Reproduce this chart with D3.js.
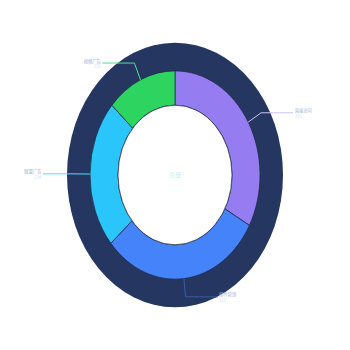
<!DOCTYPE html>
<html lang="zh">
<head>
<meta charset="utf-8">
<title>Ring</title>
<script src="https://cdn.jsdelivr.net/npm/d3@7/dist/d3.min.js"></script>
<style>
  body { margin: 0; background: #fff; }
  text { font-family: "Noto Sans CJK SC", "Noto Sans", sans-serif; }
</style>
</head>
<body>
<script>
// data
var names = ["直接访问", "邮件营销", "联盟广告", "视频广告"];
var values = [335, 310, 234, 135];
var colors = ["#967cf1", "#4583fa", "#2ac5fb", "#2dd460"];
var lineColors = ["#cdc3fb", "#3b5ba8", "#5fd6fb", "#4fe088"];
var centerLabel = "总量";

var W = 350, H = 350;
var cx = 175, cy = 175, sy = 1.225;   // ring is squashed into an ellipse
var r0 = 57, r1 = 85, rBg = 108;

var svg = d3.select("body").append("svg")
    .attr("width", W)
    .attr("height", H);

var pie = d3.pie().sort(null).value(function(d) { return d; });
var arcs = pie(values);

var arc = d3.arc().innerRadius(r0).outerRadius(r1);

var g = svg.append("g")
    .attr("transform", "translate(" + cx + "," + cy + ") scale(1," + sy + ")");

// dark outer ring
g.append("circle")
    .attr("r", rBg)
    .attr("fill", "#253761");

g.selectAll("path.slice")
    .data(arcs)
  .enter().append("path")
    .attr("class", "slice")
    .attr("d", arc)
    .attr("fill", function(d, i) { return colors[i]; })
    .attr("stroke", "#1b2540")
    .attr("stroke-width", 0.7)
    .attr("vector-effect", "non-scaling-stroke");

g.append("circle")
    .attr("r", r0)
    .attr("fill", "#fff")
    .attr("stroke", "#1b2540")
    .attr("stroke-width", 0.7)
    .attr("vector-effect", "non-scaling-stroke");

// labels with leader lines
function pt(a, r) {
  return [cx + r * Math.sin(a), cy - r * Math.cos(a) * sy];
}
var len1 = 15, len2 = 32;

arcs.forEach(function(d, i) {
  var mid = (d.startAngle + d.endAngle) / 2;
  var p1 = pt(mid, r1);
  var p2 = pt(mid, r1 + len1);
  var right = Math.sin(mid) > 0.001;
  if (Math.abs(Math.sin(mid)) < 0.15 && Math.cos(mid) < 0) {
    // bottom slice: goes to the right
    right = true;
  }
  var p3 = [p2[0] + (right ? len2 : -len2), p2[1]];

  svg.append("polyline")
      .attr("points", [p1, p2, p3].map(function(p) { return p.join(","); }).join(" "))
      .attr("fill", "none")
      .attr("stroke", lineColors[i])
      .attr("stroke-width", 1);

  var tx = p3[0] + (right ? 1.5 : -1.5);
  var anchor = right ? "start" : "end";
  svg.append("text")
      .attr("x", tx)
      .attr("y", p3[1] - 0.5)
      .attr("text-anchor", anchor)
      .attr("font-size", 4.3)
      .attr("fill", "#9fb1d4")
      .text(names[i]);
  svg.append("text")
      .attr("x", tx)
      .attr("y", p3[1] + 5)
      .attr("text-anchor", anchor)
      .attr("font-size", 4.3)
      .attr("fill", "#cfe4fb")
      .text(values[i]);
});

svg.append("text")
    .attr("x", cx)
    .attr("y", cy + 2)
    .attr("text-anchor", "middle")
    .attr("font-size", 6)
    .attr("fill", "#c6f3ee")
    .text(centerLabel);
</script>
</body>
</html>
